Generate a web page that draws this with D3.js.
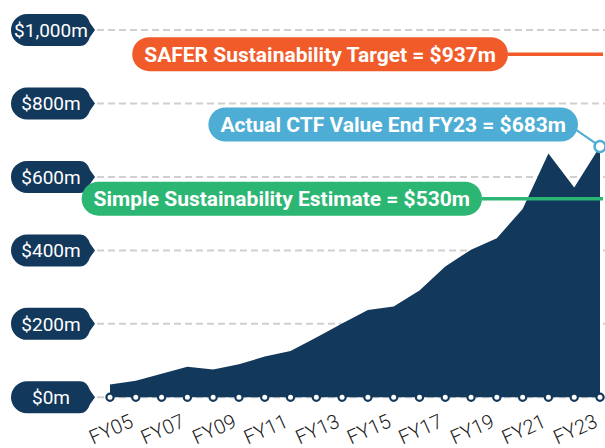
<!DOCTYPE html>
<html>
<head>
<meta charset="utf-8">
<script src="https://cdn.jsdelivr.net/npm/d3@7"></script>
<style>
  body { margin: 0; background: #fff; }
  svg { display: block; font-family: Roboto, "DejaVu Sans", sans-serif; }
</style>
</head>
<body>
<div id="chart"></div>
<script>
var categories = ["FY05", "FY06", "FY07", "FY08", "FY09", "FY10", "FY11", "FY12", "FY13", "FY14",
                  "FY15", "FY16", "FY17", "FY18", "FY19", "FY20", "FY21", "FY22", "FY23", "FY24"];
var ctfValues = [35, 45, 64, 83, 76, 90, 111, 126, 163, 201, 238, 247, 291, 356, 402, 433, 513, 664, 571, 683];
var xTickLabels = ["FY05", "FY07", "FY09", "FY11", "FY13", "FY15", "FY17", "FY19", "FY21", "FY23"];
var yTicks = [0, 200, 400, 600, 800, 1000];
var yTickLabels = ["$0m", "$200m", "$400m", "$600m", "$800m", "$1,000m"];

var annoLabels = ["SAFER Sustainability Target = $937m", "Actual CTF Value End FY23 = $683m", "Simple Sustainability Estimate = $530m"];
var annoValues = [937, 683, 530];

document.addEventListener("DOMContentLoaded", function() {

    var width = 605, height = 448;
    var navy = "#12385c";
    var annoColors = ["#f15a29", "#4eadd4", "#2cb673"];
    // right end of each annotation pill, and its vertical offset from the value
    var annoRight = [508, 578, 482];
    var annoShift = [1, -22, -4];

    var x = d3.scalePoint().domain(categories).range([110, 600]);
    var y = d3.scaleLinear().domain([0, 1000]).range([397.3, 30]);

    var svg = d3.select("#chart").append("svg")
        .attr("width", width)
        .attr("height", height);

    // grid
    svg.append("g")
        .selectAll("line")
        .data(yTicks)
        .enter().append("line")
        .attr("x1", 97)
        .attr("x2", width)
        .attr("y1", function(d) { return y(d); })
        .attr("y2", function(d) { return y(d); })
        .attr("stroke", "#d0d0d0")
        .attr("stroke-width", 2)
        .attr("stroke-dasharray", "7,4");

    // area
    var area = d3.area()
        .x(function(d, i) { return x(categories[i]); })
        .y0(y(0))
        .y1(function(d) { return y(d); });

    svg.append("path")
        .datum(ctfValues)
        .attr("fill", navy)
        .attr("d", area);

    // y axis pills
    var yl = svg.append("g").selectAll("g")
        .data(yTicks)
        .enter().append("g")
        .attr("transform", function(d) { return "translate(0," + y(d) + ")"; });

    yl.append("path")
        .attr("fill", navy)
        .attr("d", "M27,-16 H80 Q87,-16 90,-7 L95,0 L90,7 Q87,16 80,16 H27 A16,16 0 0 1 27,-16 Z");

    yl.append("text")
        .attr("x", 51)
        .attr("dy", "0.36em")
        .attr("text-anchor", "middle")
        .attr("fill", "#fff")
        .style("font-size", "19px")
        .text(function(d, i) { return yTickLabels[i]; });

    // annotation lines
    svg.append("line")
        .attr("x1", annoRight[0]).attr("x2", 603)
        .attr("y1", y(annoValues[0]) + annoShift[0]).attr("y2", y(annoValues[0]) + annoShift[0])
        .attr("stroke", annoColors[0]).attr("stroke-width", 3.5);

    svg.append("line")
        .attr("x1", annoRight[2]).attr("x2", 603)
        .attr("y1", y(annoValues[2]) + annoShift[2]).attr("y2", y(annoValues[2]) + annoShift[2])
        .attr("stroke", annoColors[2]).attr("stroke-width", 3.5);

    var lastX = x(categories[categories.length - 1]);
    svg.append("line")
        .attr("x1", annoRight[1] - 4).attr("x2", lastX)
        .attr("y1", y(annoValues[1]) + annoShift[1] + 4).attr("y2", y(annoValues[1]))
        .attr("stroke", annoColors[1]).attr("stroke-width", 2);

    // baseline dots
    svg.append("g").selectAll("circle")
        .data(categories)
        .enter().append("circle")
        .attr("cx", function(d) { return x(d); })
        .attr("cy", y(0))
        .attr("r", 3.6)
        .attr("fill", "#fff")
        .attr("stroke", navy)
        .attr("stroke-width", 2.2);

    svg.append("circle")
        .attr("cx", lastX)
        .attr("cy", y(annoValues[1]))
        .attr("r", 5.5)
        .attr("fill", "#fff")
        .attr("stroke", annoColors[1])
        .attr("stroke-width", 2.5);

    // annotation pills
    annoLabels.forEach(function(label, i) {
        var g = svg.append("g")
            .attr("transform", "translate(0," + (y(annoValues[i]) + annoShift[i]) + ")");
        var rect = g.append("rect")
            .attr("fill", annoColors[i])
            .attr("y", -17)
            .attr("height", 34)
            .attr("rx", 17);
        var t = g.append("text")
            .attr("dy", "0.36em")
            .attr("fill", "#fff")
            .style("font-size", "21px")
            .style("font-weight", "700")
            .text(label);
        var w = t.node().getComputedTextLength();
        var left = annoRight[i] - w - 24;
        rect.attr("x", left).attr("width", w + 24);
        t.attr("x", left + 12);
    });

    // x axis labels
    svg.append("g").selectAll("text")
        .data(xTickLabels)
        .enter().append("text")
        .attr("text-anchor", "middle")
        .attr("fill", "#1a1a1a")
        .style("font-size", "20px")
        .style("font-weight", "300")
        .attr("transform", function(d) { return "translate(" + (x(d) + 1) + ",429) rotate(-24)"; })
        .attr("dy", "0.35em")
        .text(function(d) { return d; });
});
</script>
</body>
</html>
